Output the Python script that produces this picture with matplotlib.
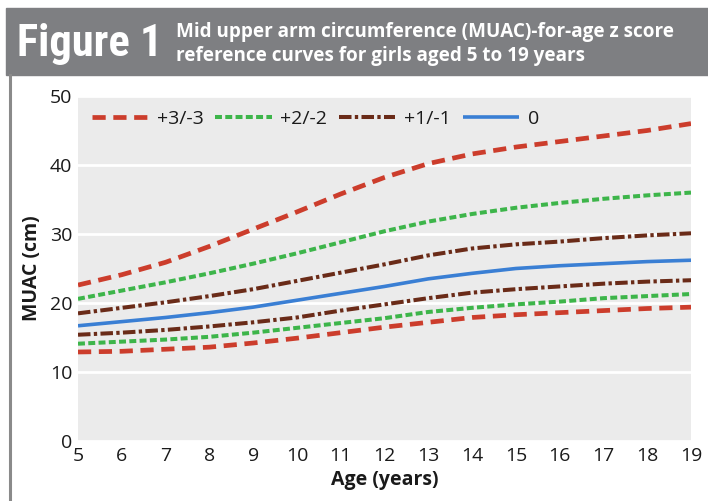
import matplotlib
matplotlib.use("Agg")
import matplotlib.pyplot as plt
from matplotlib.patches import Rectangle
from matplotlib.lines import Line2D
from matplotlib import font_manager

plt.rcParams['font.family'] = ['Open Sans', 'DejaVu Sans']
plt.rcParams['lines.scale_dashes'] = False

ages = [5, 6, 7, 8, 9, 10, 11, 12, 13, 14, 15, 16, 17, 18, 19]
sd_p3 = [22.6, 24.1, 25.9, 28.2, 30.7, 33.2, 35.8, 38.2, 40.2, 41.6, 42.6, 43.4, 44.2, 45.0, 46.0]
sd_p2 = [20.6, 21.8, 23.0, 24.3, 25.7, 27.2, 28.8, 30.4, 31.8, 32.9, 33.8, 34.5, 35.1, 35.6, 36.0]
sd_p1 = [18.5, 19.3, 20.1, 21.0, 22.0, 23.2, 24.4, 25.6, 26.9, 27.9, 28.5, 28.9, 29.4, 29.8, 30.1]
sd_0 = [16.7, 17.3, 17.9, 18.6, 19.4, 20.4, 21.4, 22.4, 23.5, 24.3, 25.0, 25.4, 25.7, 26.0, 26.2]
sd_m1 = [15.4, 15.7, 16.1, 16.6, 17.2, 17.9, 18.9, 19.8, 20.7, 21.5, 22.0, 22.4, 22.8, 23.1, 23.3]
sd_m2 = [14.1, 14.4, 14.7, 15.1, 15.7, 16.4, 17.1, 17.8, 18.7, 19.3, 19.8, 20.2, 20.7, 21.0, 21.3]
sd_m3 = [12.9, 13.0, 13.3, 13.6, 14.2, 14.9, 15.7, 16.5, 17.2, 17.9, 18.3, 18.6, 18.9, 19.2, 19.4]

legend_labels = ["+3/-3", "+2/-2", "+1/-1", "0"]
x_ticks = list(range(5, 20))
y_ticks = [0, 10, 20, 30, 40, 50]

red = "#cc3d2c"
green = "#3db54a"
brown = "#6a2b18"
blue = "#3a7fd4"

styles = {
    "+3/-3": dict(color=red, lw=3.4, dashes=(9.5, 5.5)),
    "+2/-2": dict(color=green, lw=2.9, dashes=(5, 2.4)),
    "+1/-1": dict(color=brown, lw=2.9, dashes=(9, 2.4, 2.4, 2.4)),
    "0": dict(color=blue, lw=2.6),
}

available = {f.name for f in font_manager.fontManager.ttflist}
narrow = None
for cand in ['Liberation Sans Narrow', 'DejaVu Sans Condensed', 'Roboto Condensed',
             'Open Sans Condensed', 'Noto Sans Condensed']:
    if cand in available:
        narrow = cand
        break

fig = plt.figure(figsize=(7.08, 5.01), dpi=100)

# header band
fig.patches.append(Rectangle((6 / 708, 1 - 75 / 501), 1 - 6 / 708, 67 / 501,
                             transform=fig.transFigure, color="#7e7f82", zorder=0))
if narrow:
    fig.text(17 / 708, 1 - 44 / 501, "Figure 1", color="white", fontsize=32, fontweight="bold",
             family=[narrow, 'DejaVu Sans'], va="center", ha="left")
else:
    fig.text(17 / 708, 1 - 44 / 501, "Figure 1", color="white", fontsize=21, fontweight="bold",
             family=['DejaVu Sans'], va="center", ha="left")
fig.text(176 / 708, 1 - 32 / 501, "Mid upper arm circumference (MUAC)-for-age z score",
         color="white", fontsize=13.6, fontweight="bold", va="center", ha="left")
fig.text(176 / 708, 1 - 56 / 501, "reference curves for girls aged 5 to 19 years",
         color="white", fontsize=13.6, fontweight="bold", va="center", ha="left")
# left vertical rule
fig.lines.append(Line2D([10 / 708, 10 / 708], [0, 1 - 75 / 501], transform=fig.transFigure,
                        color="#8a8a8a", lw=2.2))

ax = fig.add_axes([78 / 708, 1 - 441 / 501, 613 / 708, 345 / 501])
ax.set_facecolor("#ebebeb")
for s in ax.spines.values():
    s.set_visible(False)
ax.set_xlim(5, 19)
ax.set_ylim(0, 50)
ax.set_xticks(x_ticks)
ax.set_yticks(y_ticks)
ax.tick_params(length=0, labelsize=14, colors="#1a1a1a", pad=4)
ax.grid(axis="y", color="white", lw=2)
ax.set_axisbelow(True)

series = [(sd_p3, "+3/-3"), (sd_m3, "+3/-3"), (sd_p2, "+2/-2"), (sd_m2, "+2/-2"),
          (sd_p1, "+1/-1"), (sd_m1, "+1/-1"), (sd_0, "0")]
done = set()
for vals, key in series:
    st = dict(styles[key])
    lbl = key if key not in done else "_nolegend_"
    done.add(key)
    ax.plot(ages, vals, label=lbl, solid_capstyle="butt", dash_capstyle="butt", **st)

handles, labels = ax.get_legend_handles_labels()
order = [labels.index(l) for l in legend_labels]
leg = ax.legend([handles[i] for i in order], [labels[i] for i in order], ncol=4,
                loc="upper left", bbox_to_anchor=(0.0, 1.0), frameon=False,
                fontsize=14, handlelength=2.9, handletextpad=0.45, columnspacing=0.6,
                borderaxespad=0.3)
for t in leg.get_texts():
    t.set_color("#1a1a1a")

ax.set_xlabel("Age (years)", fontsize=14, fontweight="bold", labelpad=4, color="#1a1a1a")
ax.set_ylabel("MUAC (cm)", fontsize=14, fontweight="bold", labelpad=6, color="#1a1a1a")

fig.savefig("out.png", dpi=100)
